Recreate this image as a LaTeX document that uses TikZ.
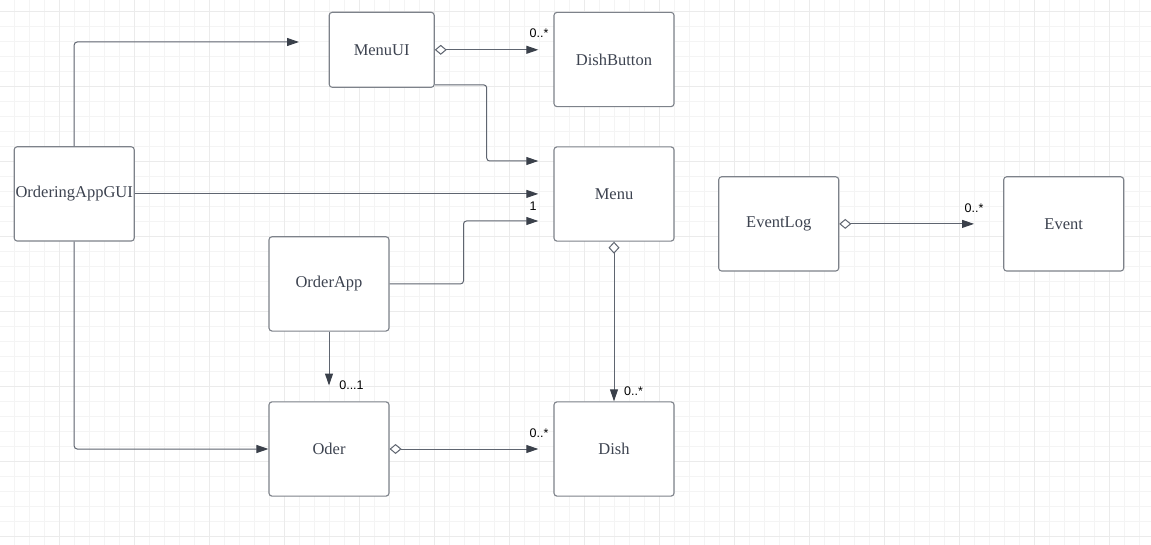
\documentclass[tikz,border=0pt]{standalone}
\usepackage{fontspec}
\setmainfont{Liberation Serif}
\newfontfamily\multfont{Liberation Sans}
\usetikzlibrary{arrows.meta}

\definecolor{gridminor}{HTML}{F4F4F4}
\definecolor{gridmajor}{HTML}{EBEBEB}
\definecolor{boxline}{HTML}{7D828A}
\definecolor{wire}{HTML}{5F6570}
\definecolor{tipfill}{HTML}{3A404A}
\definecolor{txt}{HTML}{3D4350}

\tikzset{
  classbox/.style={draw=boxline, line width=1.1pt, rounded corners=3pt, fill=white,
    minimum width=120pt, minimum height=94.3pt, inner sep=0pt,
    font=\fontsize{16.5}{18}\selectfont, text=txt},
  wire/.style={draw=wire, line width=1pt, rounded corners=3pt},
  nav/.style={wire, -{Triangle[length=12pt,width=8pt,color=tipfill]}},
  agg/.style={wire, {Diamond[length=12pt,width=10pt,fill=white]}-{Triangle[length=12pt,width=8pt,color=tipfill]}},
  mult/.style={font=\multfont\fontsize{12.5}{14}\selectfont, text=black, inner sep=0pt},
}

\begin{document}
\begin{tikzpicture}[x=1pt,y=-1pt]
  \useasboundingbox (0,0) rectangle (1151,545);
  \fill[white] (0,0) rectangle (1151,545);

  % background grid
  \foreach \i in {-1,...,76}
    \draw[gridminor, line width=0.8pt] ({14.7+15*\i},0) -- ({14.7+15*\i},545);
  \foreach \i in {-1,...,36}
    \draw[gridminor, line width=0.8pt] (0,{11.7+15*\i}) -- (1151,{11.7+15*\i});
  \foreach \i in {-1,...,15}
    \draw[gridmajor, line width=0.8pt] ({59.7+75*\i},0) -- ({59.7+75*\i},545);
  \foreach \i in {0,...,7}
    \draw[gridmajor, line width=0.8pt] (0,{11.7+75*\i}) -- (1151,{11.7+75*\i});

  % classes
  \node[classbox, minimum width=105pt, minimum height=75pt] (menuui) at (381.7,49.8) {MenuUI};
  \node[classbox] (dishbtn) at (614,59.5) {DishButton};
  \node[classbox] (gui) at (74.2,193.9) {OrderingAppGUI};
  \node[classbox] (menu) at (614,194) {Menu};
  \node[classbox] (orderapp) at (329,283.9) {OrderApp};
  \node[classbox] (oder) at (329,449) {Oder};
  \node[classbox] (dish) at (614,449) {Dish};
  \node[classbox] (eventlog) at (778.7,223.9) {EventLog};
  \node[classbox] (event) at (1063.7,223.9) {Event};

  % free ends of the navigations
  \coordinate (guiToUi) at (299,42);
  \coordinate (uiToBtn) at (538.3,49.8);
  \coordinate (uiToMenu) at (538.3,161);
  \coordinate (guiToMenu) at (538.3,193.9);
  \coordinate (appToMenu) at (538.3,221);
  \coordinate (appToOder) at (329,385.5);
  \coordinate (oderToDish) at (538.3,449);
  \coordinate (logToEvent) at (974,223.9);

  % associations
  \draw[nav] (gui.north) |- (guiToUi);
  \draw[agg] (menuui.east) -- (uiToBtn);
  \draw[nav] ([yshift=3pt]menuui.south east) -| (486.7,161) -- (uiToMenu);
  \draw[nav] (gui.east) -- (guiToMenu);
  \draw[nav] (orderapp.east) -| (463.5,221) -- (appToMenu);
  \draw[wire, {Diamond[length=12pt,width=11pt,fill=white]}-{Triangle[length=12pt,width=8pt,color=tipfill]}] (menu.south) -- (dish.north);
  \draw[nav] (orderapp.south) -- (appToOder);
  \draw[nav] (gui.south) |- (oder.west);
  \draw[agg] (oder.east) -- (oderToDish);
  \draw[agg] (eventlog.east) -- (logToEvent);

  % multiplicities
  \node[mult] (mBtn) at (539,33) {0..*};
  \node[mult] (mMenu) at (533,206) {1};
  \node[mult] (mDish) at (633.5,391.5) {0..*};
  \node[mult] (mOder) at (351.5,385) {0...1};
  \node[mult] (mOderDish) at (539,433) {0..*};
  \node[mult] (mEvent) at (974,208) {0..*};
\end{tikzpicture}
\end{document}
